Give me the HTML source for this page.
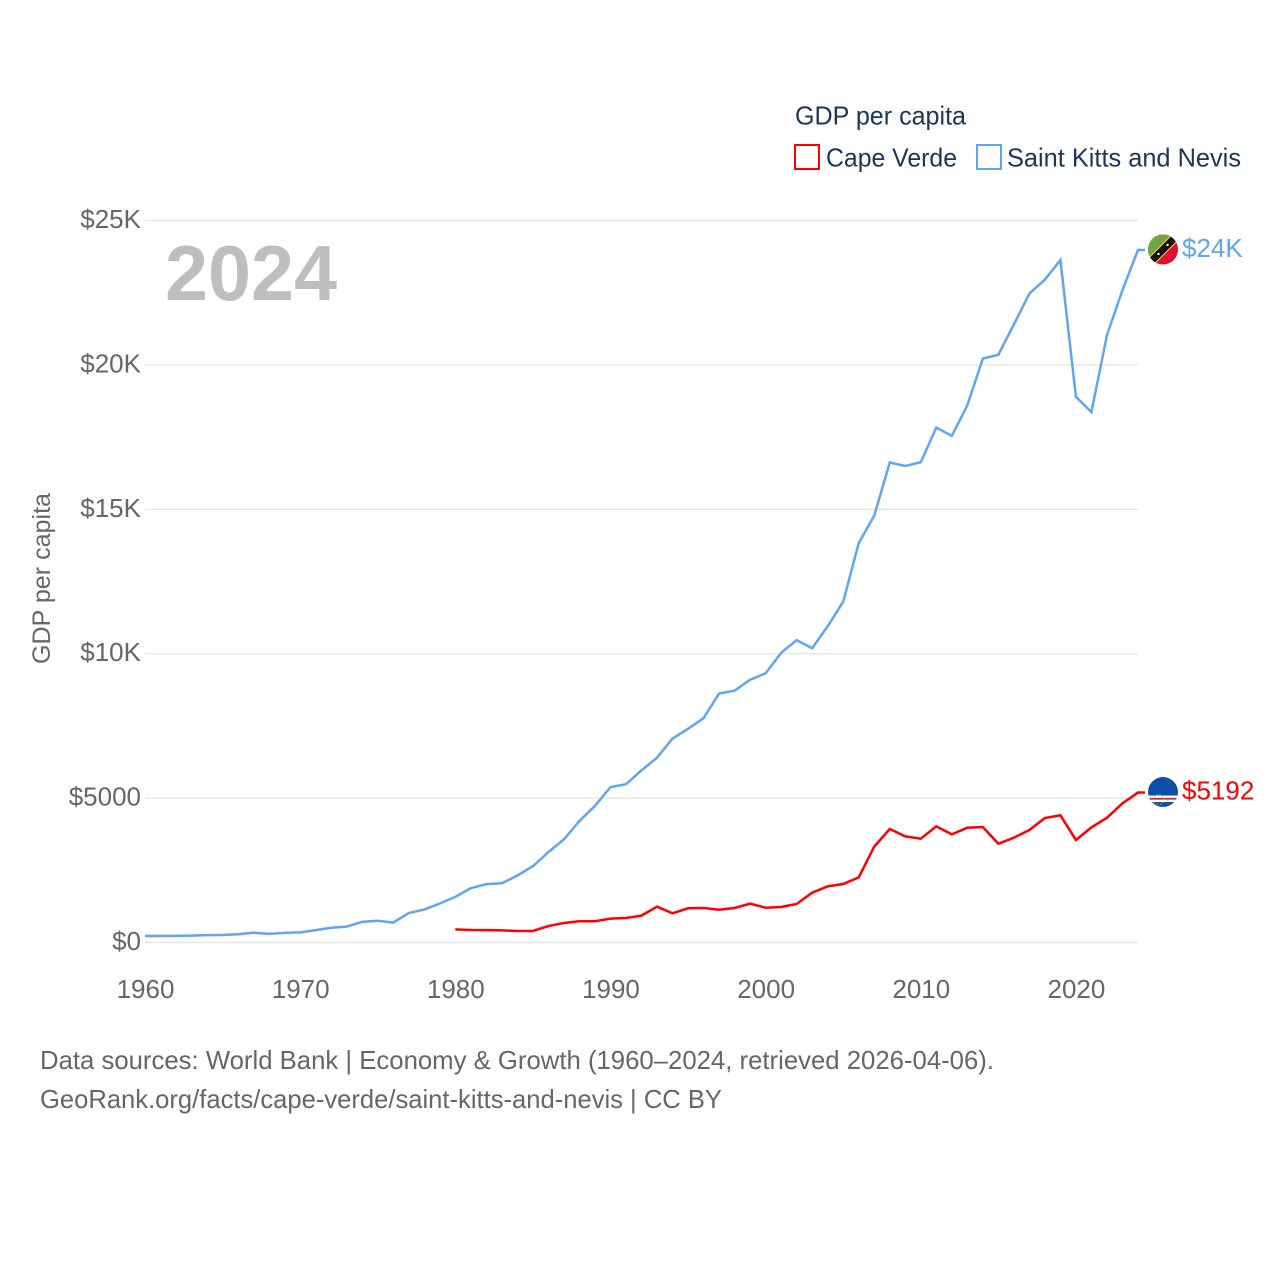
<!DOCTYPE html>
<html lang="en">
<head>
<meta charset="utf-8">
<title>GDP per capita: Cape Verde and Saint Kitts and Nevis</title>
<style>
html,body{margin:0;padding:0;background:#fff;width:1280px;height:1280px;overflow:hidden}
svg{display:block}
text{font-family:"Liberation Sans",sans-serif}
</style>
</head>
<body>
<svg id="chart" width="1280" height="1280" viewBox="0 0 1280 1280" xmlns="http://www.w3.org/2000/svg">
  <defs>
    <clipPath id="flag-clip"><circle cx="0" cy="0" r="15"/></clipPath>
  </defs>
  <g id="grid"></g>
  <g id="y-ticks"></g>
  <g id="x-ticks"></g>
  <text x="165" y="300" font-size="78" font-weight="700" fill="#bebebe" textLength="172" lengthAdjust="spacingAndGlyphs">2024</text>
  <text transform="translate(50,664) rotate(-90)" font-size="25" fill="#666666" textLength="171" lengthAdjust="spacingAndGlyphs">GDP per capita</text>
  <g id="series"></g>

  <g id="flag-kn">
    <g clip-path="url(#flag-clip)">
      <rect x="-16" y="-16" width="32" height="32" fill="#e0102f"/>
      <polygon points="-16,-16 16,-16 -16,16" fill="#72a63e"/>
      <polygon points="-16,9.5 9.5,-16 16,-16 16,-9.5 -9.5,16 -16,16" fill="#f5d130"/>
      <polygon points="-16,11 11,-16 16,-11 -11,16" fill="#111111"/>
      <circle cx="-4.5" cy="4.5" r="1.2" fill="#ffffff"/>
      <circle cx="4.5" cy="-4.5" r="1.2" fill="#ffffff"/>
    </g>
  </g>
  <g id="flag-cv">
    <g clip-path="url(#flag-clip)">
      <rect x="-16" y="-16" width="32" height="32" fill="#0a50a8"/>
      <rect x="-16" y="3.5" width="32" height="6.5" fill="#ffffff"/>
      <rect x="-16" y="5.8" width="32" height="1.8" fill="#d8202f"/>
      <circle cx="-4" cy="7.5" r="5" fill="none" stroke="#e8c840" stroke-width="1" stroke-dasharray="1 2"/>
    </g>
  </g>
  <text id="label-kn" x="1182" font-size="26" fill="#60a5ef"></text>
  <text id="label-cv" x="1182" font-size="26" fill="#ff0000"></text>

  <g>
    <text x="795" y="124.5" font-size="26" fill="#1d3557" textLength="171" lengthAdjust="spacingAndGlyphs">GDP per capita</text>
    <rect x="795" y="145" width="24" height="24" fill="#ffffff" stroke="#ff0000" stroke-width="2"/>
    <text x="826" y="166.5" font-size="26" fill="#1d3557" textLength="131" lengthAdjust="spacingAndGlyphs">Cape Verde</text>
    <rect x="977" y="145" width="24" height="24" fill="#ffffff" stroke="#60a5ef" stroke-width="2"/>
    <text x="1007" y="166.5" font-size="26" fill="#1d3557" textLength="234" lengthAdjust="spacingAndGlyphs">Saint Kitts and Nevis</text>
  </g>

  <text x="40" y="1069" font-size="26" fill="#666666" textLength="954" lengthAdjust="spacingAndGlyphs">Data sources: World Bank | Economy &amp; Growth (1960–2024, retrieved 2026-04-06).</text>
  <text x="40" y="1108" font-size="26" fill="#666666" textLength="682" lengthAdjust="spacingAndGlyphs">GeoRank.org/facts/cape-verde/saint-kitts-and-nevis | CC BY</text>
</svg>
<script>
var yTickValues = [0, 5000, 10000, 15000, 20000, 25000];
var yTickLabels = ["$0", "$5000", "$10K", "$15K", "$20K", "$25K"];
var xTickYears = [1960, 1970, 1980, 1990, 2000, 2010, 2020];
var xTickLabels = ["1960", "1970", "1980", "1990", "2000", "2010", "2020"];

var kittsStartYear = 1960;
var kittsValues = [225, 225, 230, 240, 255, 260, 285, 340, 300, 335,
  350, 430, 510, 550, 715, 755, 690, 1020, 1140, 1350,
  1580, 1880, 2020, 2050, 2320, 2640, 3130, 3570, 4210, 4730,
  5380, 5480, 5960, 6400, 7060, 7400, 7770, 8620, 8720, 9100,
  9320, 10030, 10470, 10190, 10950, 11800, 13830, 14780, 16620, 16500,
  16630, 17830, 17540, 18600, 20220, 20350, 21400, 22470, 22950, 23630,
  18890, 18370, 21030, 22590, 23979];
var kittsEndLabel = "$24K";

var verdeStartYear = 1980;
var verdeValues = [455, 433, 430, 420, 400, 400, 570, 675, 735, 735,
  825, 850, 930, 1240, 1010, 1185, 1195, 1135, 1195, 1345,
  1205, 1230, 1335, 1725, 1945, 2025, 2255, 3320, 3930, 3675,
  3595, 4020, 3745, 3975, 4000, 3420, 3630, 3895, 4310, 4405,
  3550, 3985, 4320, 4820, 5192];
var verdeEndLabel = "$5192";

var SVGNS = "http://www.w3.org/2000/svg";
function xScale(year) { return 145 + (year - 1960) * (1138 - 145) / 64; }
function yScale(value) { return 942.5 - value * (942.5 - 220.5) / 25000; }
function make(tag, parent) {
  var el = document.createElementNS(SVGNS, tag);
  parent.appendChild(el);
  return el;
}

var gridGroup = document.getElementById("grid");
var yTickGroup = document.getElementById("y-ticks");
yTickValues.forEach(function (value, i) {
  var line = make("line", gridGroup);
  
  
  line.setAttribute("x1", 145);
  line.setAttribute("x2", 1138);
  line.setAttribute("y1", yScale(value));
  line.setAttribute("y2", yScale(value));
  line.setAttribute("stroke", "#e6e6e6");
  line.setAttribute("stroke-width", "1.4");

  var label = make("text", yTickGroup);
  
  
  label.setAttribute("x", 141);
  label.setAttribute("y", yScale(value) + 7.5);
  label.setAttribute("text-anchor", "end");
  label.setAttribute("font-size", "26");
  label.setAttribute("fill", "#666666");
  label.textContent = yTickLabels[i];
});

var xTickGroup = document.getElementById("x-ticks");
xTickYears.forEach(function (year, i) {
  var label = make("text", xTickGroup);
  
  
  label.setAttribute("x", xScale(year) + 0.5);
  label.setAttribute("y", 998);
  label.setAttribute("text-anchor", "middle");
  label.setAttribute("font-size", "26");
  label.setAttribute("fill", "#666666");
  label.textContent = xTickLabels[i];
});

function pointsFor(startYear, values) {
  var pts = values.map(function (v, i) {
    return xScale(startYear + i).toFixed(2) + "," + yScale(v).toFixed(2);
  });
  var lastY = yScale(values[values.length - 1]).toFixed(2);
  pts.push(xScale(startYear + values.length - 1 + 0.45).toFixed(2) + "," + lastY);
  return pts.join(" ");
}

var seriesGroup = document.getElementById("series");

var verdeLine = make("polyline", seriesGroup);


verdeLine.setAttribute("points", pointsFor(verdeStartYear, verdeValues));
verdeLine.setAttribute("fill", "none");
verdeLine.setAttribute("stroke", "#ff0000");
verdeLine.setAttribute("stroke-width", "2.5");

var kittsLine = make("polyline", seriesGroup);


kittsLine.setAttribute("points", pointsFor(kittsStartYear, kittsValues));
kittsLine.setAttribute("fill", "none");
kittsLine.setAttribute("stroke", "#60a5ef");
kittsLine.setAttribute("stroke-width", "2.5");

function placeEnd(flagId, labelId, values, text) {
  var y = yScale(values[values.length - 1]);
  document.getElementById(flagId).setAttribute("transform", "translate(1163," + (y - 0.5) + ")");
  var label = document.getElementById(labelId);
  label.setAttribute("y", y + 7);
  label.textContent = text;
}
placeEnd("flag-kn", "label-kn", kittsValues, kittsEndLabel);
placeEnd("flag-cv", "label-cv", verdeValues, verdeEndLabel);
</script>
</body>
</html>
